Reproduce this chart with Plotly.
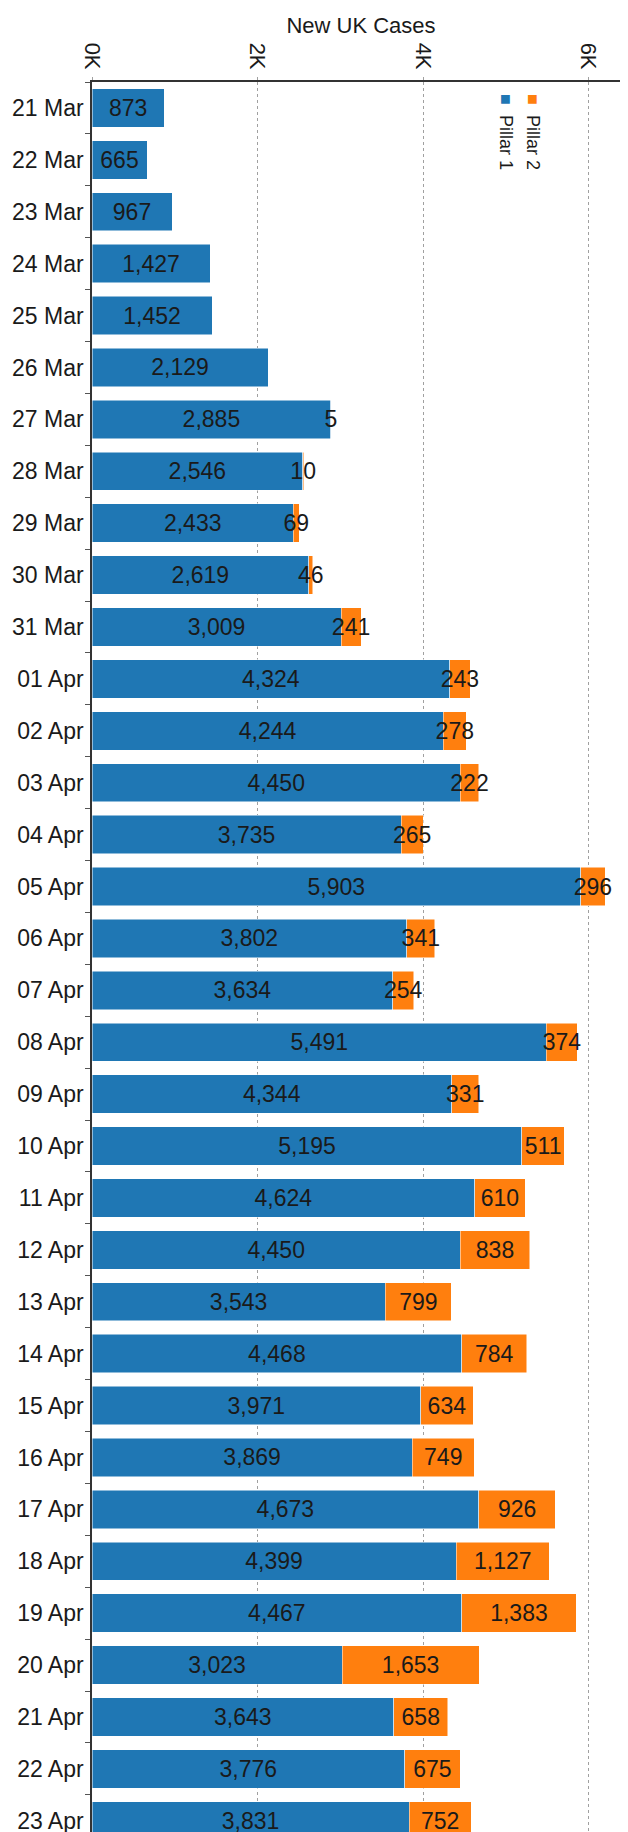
import plotly.graph_objects as go

dates = ["21 Mar", "22 Mar", "23 Mar", "24 Mar", "25 Mar", "26 Mar", "27 Mar", "28 Mar",
         "29 Mar", "30 Mar", "31 Mar", "01 Apr", "02 Apr", "03 Apr", "04 Apr", "05 Apr",
         "06 Apr", "07 Apr", "08 Apr", "09 Apr", "10 Apr", "11 Apr", "12 Apr", "13 Apr",
         "14 Apr", "15 Apr", "16 Apr", "17 Apr", "18 Apr", "19 Apr", "20 Apr", "21 Apr",
         "22 Apr", "23 Apr"]
pillar1 = [873, 665, 967, 1427, 1452, 2129, 2885, 2546, 2433, 2619, 3009, 4324, 4244, 4450,
           3735, 5903, 3802, 3634, 5491, 4344, 5195, 4624, 4450, 3543, 4468, 3971, 3869,
           4673, 4399, 4467, 3023, 3643, 3776, 3831]
pillar2 = [0, 0, 0, 0, 0, 0, 5, 10, 69, 46, 241, 243, 278, 222, 265, 296, 341, 254, 374,
           331, 511, 610, 838, 799, 784, 634, 749, 926, 1127, 1383, 1653, 658, 675, 752]
tick_vals = [0, 2000, 4000, 6000]
tick_text = ["0K", "2K", "4K", "6K"]

BLUE = "#1f77b4"
ORANGE = "#ff7f0e"
FONT = "Liberation Sans, Arial, sans-serif"
TXT = "#1a1a1a"
FS = 23

fig = go.Figure()
fig.add_trace(go.Bar(
    y=dates, x=pillar1, orientation="h", name="Pillar 1",
    marker=dict(color=BLUE, line=dict(color="white", width=0.5)),
    text=[f"{v:,}" for v in pillar1], textposition="inside",
    insidetextanchor="middle", textangle=0, constraintext="none",
    textfont=dict(family=FONT, size=FS, color=TXT),
))
fig.add_trace(go.Bar(
    y=dates, x=pillar2, orientation="h", name="Pillar 2",
    marker=dict(color=ORANGE, line=dict(color="white", width=0.5)),
    text=[f"{v:,}" if v else "" for v in pillar2], textposition="inside",
    insidetextanchor="middle", textangle=0, constraintext="none",
    textfont=dict(family=FONT, size=FS, color=TXT),
))

fig.update_layout(
    width=628, height=1832,
    margin=dict(l=84, r=6, t=74, b=0),
    barmode="stack", bargap=0.26,
    plot_bgcolor="white", paper_bgcolor="white",
    showlegend=False,
    font=dict(family=FONT, color=TXT),
    title=dict(text="New UK Cases", x=0.5, xref="paper", y=1 - 17 / 1832,
               yref="container", yanchor="middle", xanchor="center",
               font=dict(family=FONT, size=22, color=TXT)),
)
fig.update_xaxes(
    side="top", range=[0, 6500], tickvals=tick_vals, ticktext=tick_text,
    tickangle=90, tickfont=dict(family=FONT, size=22, color=TXT),
    showline=True, linecolor="#333", linewidth=1.5,
    showgrid=True, gridcolor="#a0a0a0", griddash="dot", gridwidth=1,
    zeroline=False, ticks="outside", ticklen=3, tickcolor="#a0a0a0",
)
fig.update_yaxes(
    type="category", range=[33.37, -0.5],
    tickfont=dict(family=FONT, size=FS, color=TXT),
    showline=True, linecolor="#333", linewidth=1.5,
    ticks="outside", tickson="boundaries", ticklen=5, tickcolor="#555",
    showgrid=False, ticklabelstandoff=2,
)

for name, color, px in (("Pillar 1", BLUE, 498), ("Pillar 2", ORANGE, 525)):
    fig.add_annotation(
        xref="paper", yref="paper", x=(px - 84) / 538, y=1 - (124 - 74) / 1758,
        text=f"<span style='color:{color}'>■</span>&nbsp;&nbsp;{name}", textangle=90,
        showarrow=False, font=dict(family=FONT, size=18, color=TXT),
        xanchor="center", yanchor="middle",
    )

fig.write_html("out.html")
